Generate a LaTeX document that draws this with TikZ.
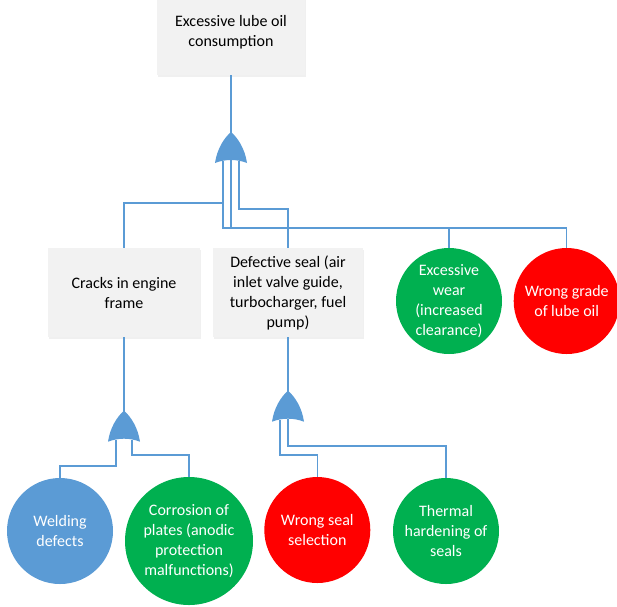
\documentclass[tikz,border=0pt]{standalone}
\usepackage{fontspec}
\setmainfont{Carlito}
\usetikzlibrary{shadows}

\definecolor{lineblue}{HTML}{5B9BD5}
\definecolor{okgreen}{HTML}{00B050}
\definecolor{alarmred}{HTML}{FF0000}
\definecolor{boxgray}{HTML}{F2F2F2}

\tikzset{
  link/.style={draw=lineblue, line width=1.5pt},
  event/.style={rectangle, fill=boxgray, align=center, inner sep=0pt,
    font=\fontsize{16}{20}\selectfont,
    drop shadow={opacity=0.12, shadow xshift=1pt, shadow yshift=-1.5pt}},
  basic/.style={circle, fill=#1, text=white, align=center, inner sep=0pt,
    font=\fontsize{16}{20}\selectfont},
  orgate/.pic={
    \fill[lineblue] (-16,0) .. controls (-14,-14) and (-7,-25) .. (0,-31)
      .. controls (7,-25) and (14,-14) .. (16,0)
      .. controls (6,-4) and (-6,-4) .. cycle;
    \coordinate (-out) at (0,-30);
    \coordinate (-in1) at (-8,-2);
    \coordinate (-in2) at (0,-3);
    \coordinate (-in3) at (8,-2);
  }
}

\begin{document}
\begin{tikzpicture}[x=1pt, y=-1pt]
  \useasboundingbox (0,0) rectangle (617,606);

  % top event
  \node[event, minimum width=148pt, minimum height=85pt] (top) at (231,32.5)
    {Excessive lube oil\\consumption};

  % intermediate events
  \node[event, minimum width=152pt, minimum height=89pt] (cracks) at (124,292.5)
    {Cracks in engine\\frame};
  \node[event, minimum width=150pt, minimum height=89pt] (seal) at (288,292.5)
    {Defective seal (air\\inlet valve guide,\\turbocharger, fuel\\pump)};

  % basic events
  \node[basic=okgreen, minimum size=106pt] (wear) at (449,301)
    {Excessive\\wear\\(increased\\clearance)};
  \node[basic=alarmred, minimum size=106pt] (grade) at (566.7,301)
    {Wrong grade\\of lube oil};
  \node[basic=lineblue, minimum size=106pt] (weld) at (60,531)
    {Welding\\defects};
  \node[basic=okgreen, minimum size=128pt] (corr) at (189,541)
    {Corrosion of\\plates (anodic\\protection\\malfunctions)};
  \node[basic=alarmred, minimum size=106pt] (wseal) at (317.3,530)
    {Wrong seal\\selection};
  \node[basic=okgreen, minimum size=106pt] (thermal) at (446,531)
    {Thermal\\hardening of\\seals};

  % OR gates
  \pic (g0) at (231,163) {orgate};
  \pic (g1) at (124,441.7) {orgate};
  \pic (g2) at (288,421.7) {orgate};

  % gate outputs
  \draw[link] (top.south) -- (g0-out);
  \draw[link] (cracks.south) -- (g1-out);
  \draw[link] (seal.south) -- (g2-out);

  % inputs of the top gate
  \draw[link] (g0-in1) -- ++(0,42) -| (cracks.north);
  \draw[link] (g0-in1) -- ++(0,67) -| (wear.north);
  \draw[link] (g0-in2) -- ++(0,68) -| (grade.north);
  \draw[link] (g0-in3) -- ++(0,48) -| (seal.north);

  % inputs of the engine frame gate
  \draw[link] (g1-in1) -- ++(0,26.3) -| (weld.north);
  \draw[link] (g1-in3) -- ++(0,15.3) -| (corr.north);

  % inputs of the seal gate
  \draw[link] (g2-in1) -- ++(0,35.3) -| (wseal.north);
  \draw[link] (g2-in2) -- ++(0,27.3) -| (thermal.north);
\end{tikzpicture}
\end{document}
